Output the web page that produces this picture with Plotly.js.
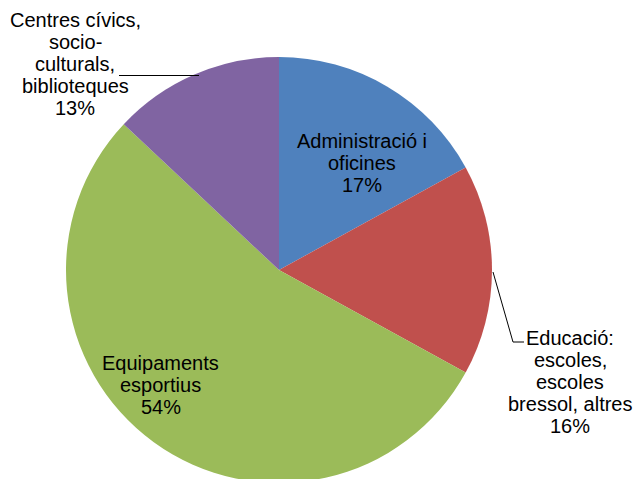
<!DOCTYPE html>
<html>
<head>
<meta charset="utf-8">
<script src="https://cdn.plot.ly/plotly-3.0.1.min.js"></script>
<style>
html,body{margin:0;padding:0;overflow:hidden;background:#fff;}
#chart{width:634px;height:500px;}
</style>
</head>
<body>
<div id="chart"></div>
<script>
// Data
const labels = ["Administració i oficines", "Educació: escoles, escoles bressol, altres", "Equipaments esportius", "Centres cívics, socio-culturals, biblioteques"];
const labelLines = [
  ["Administració i", "oficines"],
  ["Educació:", "escoles,", "escoles", "bressol, altres"],
  ["Equipaments", "esportius"],
  ["Centres cívics,", "socio-", "culturals,", "biblioteques"]
];
const values = [17, 16, 54, 13];
const colors = ["#4F81BD", "#C0504D", "#9BBB59", "#8064A2"];

const W = 634, H = 500;
const px = x => x / W;
const py = y => 1 - y / H;

// label block layout (pixels): center x, middle y of first line, line step
const labelPos = [[362, 141], [570, 338], [161, 363], [75, 20]];
const LINE_STEP = 22;

const annotations = [];
labels.forEach((l, i) => {
  const lines = labelLines[i].concat([values[i] + '%']);
  lines.forEach((t, j) => {
    annotations.push({
      xref: 'paper', yref: 'paper',
      x: px(labelPos[i][0]), y: py(labelPos[i][1] + j * LINE_STEP),
      xanchor: 'center', yanchor: 'middle', align: 'center',
      showarrow: false,
      text: t,
      font: {family: 'Liberation Sans, Arial, sans-serif', size: 20, color: '#000'}
    });
  });
});

const shapes = [
  {type: 'path', xref: 'paper', yref: 'paper',
   path: `M ${px(119)} ${py(75.5)} L ${px(199)} ${py(75.5)}`,
   line: {color: '#000', width: 1}},
  {type: 'path', xref: 'paper', yref: 'paper',
   path: `M ${px(493)} ${py(272)} L ${px(513)} ${py(342)} L ${px(524)} ${py(342)}`,
   line: {color: '#000', width: 1}}
];

const trace = {
  type: 'pie',
  labels: labels,
  values: values,
  sort: false,
  direction: 'clockwise',
  rotation: 0,
  marker: {colors: colors, line: {width: 0}},
  textinfo: 'none',
  hoverinfo: 'label+percent',
  showlegend: false,
  domain: {x: [66 / W, 492 / W], y: [1 - 483 / H, 1 - 57 / H]}
};

Plotly.newPlot('chart', [trace], {
  width: W, height: H,
  margin: {l: 0, r: 0, t: 0, b: 0},
  paper_bgcolor: '#fff',
  showlegend: false,
  annotations: annotations,
  shapes: shapes
}, {displayModeBar: false, staticPlot: true});
</script>
</body>
</html>
